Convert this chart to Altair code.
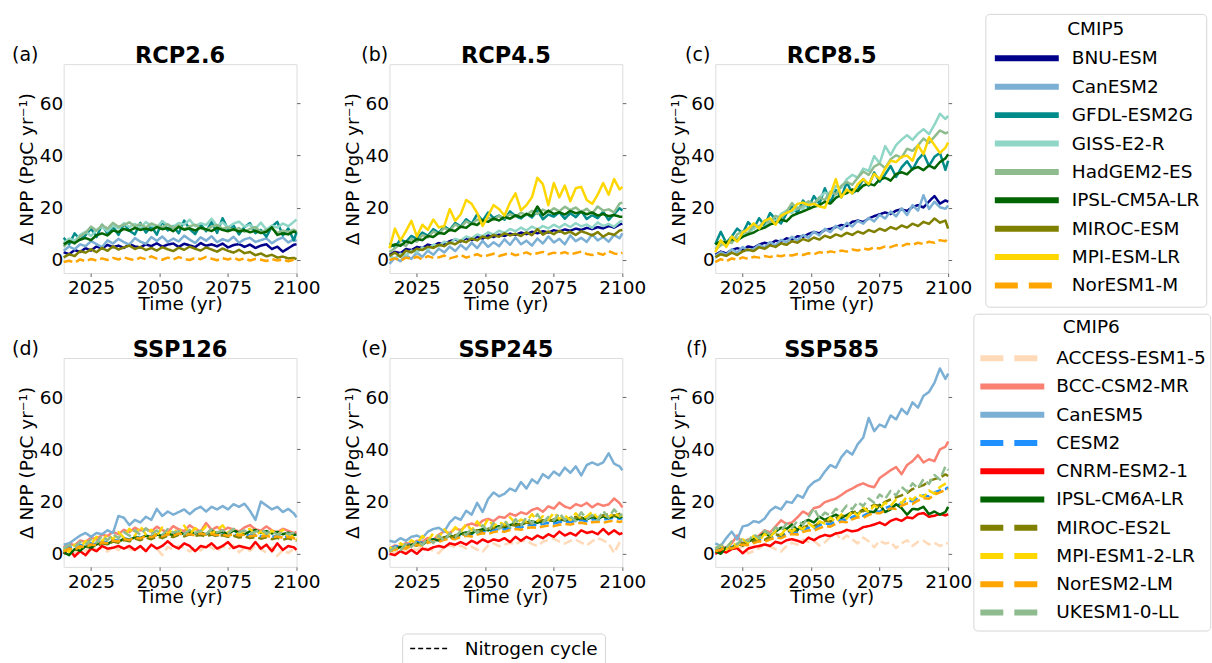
import altair as alt
import pandas as pd

# Sample years of the annual NPP anomaly series
years = list(range(2015, 2100, 2)) + [2100]

cmip5_models = ["BNU-ESM", "CanESM2", "GFDL-ESM2G", "GISS-E2-R", "HadGEM2-ES",
                "IPSL-CM5A-LR", "MIROC-ESM", "MPI-ESM-LR", "NorESM1-M"]
cmip5_colors = ["#00008b", "#7bafd4", "#008b8b", "#8fd6c6", "#8fbc8f",
                "#006400", "#808000", "#ffd700", "#ffa500"]
cmip5_nitrogen = ["NorESM1-M"]

cmip6_models = ["ACCESS-ESM1-5", "BCC-CSM2-MR", "CanESM5", "CESM2", "CNRM-ESM2-1",
                "IPSL-CM6A-LR", "MIROC-ES2L", "MPI-ESM1-2-LR", "NorESM2-LM", "UKESM1-0-LL"]
cmip6_colors = ["#ffdab9", "#fa8072", "#7bafd4", "#1e90ff", "#ff0000",
                "#006400", "#808000", "#ffd700", "#ffa500", "#8fbc8f"]
cmip6_nitrogen = ["ACCESS-ESM1-5", "CESM2", "MIROC-ES2L", "MPI-ESM1-2-LR",
                  "NorESM2-LM", "UKESM1-0-LL"]

scenario_titles = ["RCP2.6", "RCP4.5", "RCP8.5", "SSP126", "SSP245", "SSP585"]
panel_tags = ["(a)", "(b)", "(c)", "(d)", "(e)", "(f)"]
x_ticks = [2025, 2050, 2075, 2100]
y_ticks = [0, 20, 40, 60]

# ---------------- RCP2.6 (CMIP5) ----------------
rcp26_bnu = [3.0, 2.2, 3.8, 3.1, 4.5, 3.6, 5.2, 4.4, 5.8, 4.9, 5.5,
             4.6, 6.1, 5.2, 4.8, 6.0, 5.3, 6.4, 5.1, 5.9, 6.3, 5.0,
             6.2, 5.6, 4.9, 6.5, 5.4, 6.0, 5.2, 6.3, 4.8, 5.7, 6.1,
             5.0, 5.9, 4.6, 5.5, 6.0, 4.2, 5.1, 3.2, 4.5, 5.8, 6.0]
rcp26_can = [3.5, 5.2, 4.1, 6.0, 5.3, 7.2, 6.1, 4.9, 7.5, 6.3, 8.1,
             6.8, 5.9, 8.4, 7.0, 6.2, 8.8, 7.3, 9.0, 6.9, 8.2, 7.1,
             9.3, 7.8, 6.5, 8.7, 7.4, 9.1, 6.8, 8.0, 7.2, 8.9, 6.6,
             7.9, 8.5, 6.9, 7.6, 8.3, 6.4, 7.8, 8.6, 6.7, 7.9, 7.2]
rcp26_gfdl = [8.5, 6.0, 10.2, 7.8, 9.5, 12.0, 8.8, 13.5, 10.1, 12.8, 9.6,
              13.9, 11.2, 9.8, 14.2, 10.5, 12.9, 9.7, 14.8, 11.3, 13.0, 10.2,
              15.1, 11.8, 9.9, 13.6, 11.0, 14.5, 10.4, 16.0, 11.7, 13.2, 9.8,
              12.6, 14.1, 10.3, 11.5, 8.9, 12.8, 14.6, 9.4, 12.1, 7.5, 10.6]
rcp26_giss = [6.5, 8.2, 7.4, 9.6, 10.8, 9.2, 11.5, 12.8, 11.0, 13.2, 12.1,
              14.0, 12.6, 13.8, 12.2, 14.5, 13.1, 12.4, 14.9, 13.3, 12.7, 14.2,
              13.6, 15.4, 12.9, 14.1, 13.4, 15.8, 13.0, 14.4, 12.5, 13.9, 14.7,
              12.8, 13.5, 12.0, 14.3, 11.6, 13.2, 12.4, 14.0, 12.9, 14.6, 15.5]
rcp26_had = [5.0, 7.5, 6.2, 9.0, 10.4, 12.8, 11.2, 13.4, 12.0, 14.2, 12.7,
             13.5, 14.4, 12.9, 13.8, 12.4, 14.0, 13.1, 12.6, 13.7, 12.2, 13.3,
             11.8, 12.9, 13.5, 12.1, 11.6, 12.8, 13.4, 11.9, 12.5, 11.4, 12.2,
             10.8, 11.9, 12.6, 10.7, 11.5, 12.0, 10.4, 11.2, 10.8, 11.6, 11.0]
rcp26_ipsl = [6.0, 7.2, 6.5, 7.8, 8.4, 7.6, 9.5, 10.2, 9.4, 11.3, 10.7,
              11.9, 11.2, 12.3, 11.5, 12.0, 11.4, 12.6, 11.8, 12.2, 11.0, 12.7,
              11.6, 12.1, 11.3, 12.4, 11.7, 11.1, 12.3, 11.5, 11.0, 11.8, 10.9,
              11.4, 10.6, 11.2, 10.3, 10.8, 12.5, 9.6, 10.2, 9.8, 10.9, 10.5]
rcp26_miroc = [1.0, 2.2, 1.5, 3.4, 2.8, 4.1, 3.0, 4.6, 3.5, 5.2, 4.0,
               4.8, 5.5, 4.2, 5.0, 3.8, 4.6, 3.6, 4.9, 4.1, 3.4, 4.7,
               3.9, 5.1, 4.3, 3.6, 4.8, 4.0, 3.2, 4.4, 3.5, 2.8, 3.9,
               2.6, 3.1, 1.8, 2.5, 1.4, 2.0, 0.9, 1.3, 0.6, 0.8, 0.3]
rcp26_nor = [-0.8, -0.3, -1.0, 0.2, -0.5, 0.4, -0.2, 0.6, 0.0, 0.8, 0.2,
             1.0, 0.4, -0.1, 0.9, 0.3, 1.4, 0.5, 0.1, 0.9, 0.2, 1.1,
             0.4, 0.0, 0.8, 0.3, 1.2, 0.5, -0.1, 0.7, 0.2, 0.9, 0.0,
             0.6, -0.2, 0.4, 0.1, -0.4, 0.3, -0.2, 0.2, -0.5, 0.1, -0.1]

# ---------------- RCP4.5 (CMIP5) ----------------
rcp45_bnu = [2.0, 3.1, 2.6, 4.2, 3.8, 5.0, 4.6, 5.9, 5.4, 6.5, 6.0,
             7.2, 7.8, 7.1, 8.3, 7.6, 8.9, 8.2, 9.4, 8.8, 9.7, 9.2,
             10.1, 9.6, 10.5, 9.9, 10.8, 10.2, 11.0, 10.5, 11.4, 10.9, 11.7,
             11.2, 12.0, 11.5, 12.3, 11.8, 12.6, 12.1, 13.0, 12.4, 13.6, 13.9]
rcp45_can = [-1.5, 0.8, -0.5, 1.9, 0.4, 2.8, 1.2, 3.6, 2.0, 4.3, 2.9,
             5.1, 3.4, 5.8, 4.0, 6.6, 4.5, 7.3, 5.0, 6.8, 5.3, 7.9,
             5.8, 8.6, 6.0, 7.4, 5.5, 8.2, 6.3, 9.0, 6.7, 8.1, 6.0,
             9.4, 7.2, 8.5, 6.9, 9.8, 7.5, 8.8, 7.0, 9.6, 8.3, 10.2]
rcp45_gfdl = [6.5, 5.0, 7.8, 6.9, 9.2, 8.1, 10.5, 9.3, 11.8, 10.4, 12.9,
              11.5, 14.2, 12.8, 15.6, 13.9, 17.5, 15.0, 18.2, 16.1, 17.0, 15.4,
              18.6, 16.8, 15.9, 17.7, 16.3, 18.9, 15.6, 17.4, 16.6, 18.3, 15.8,
              17.9, 16.4, 18.7, 15.7, 17.2, 16.0, 18.5, 15.3, 17.6, 19.8, 18.9]
rcp45_giss = [1.5, 0.5, 2.4, 1.8, 3.6, 2.9, 4.8, 4.0, 5.9, 5.2, 7.0,
              6.3, 8.1, 7.4, 9.0, 8.3, 9.8, 9.1, 10.6, 9.7, 11.2, 10.4,
              11.9, 11.0, 12.4, 11.3, 12.8, 11.7, 13.0, 12.1, 13.5, 12.4, 13.8,
              12.6, 14.1, 12.9, 13.6, 12.3, 14.4, 13.0, 13.8, 12.7, 14.6, 15.0]
rcp45_had = [3.0, 4.5, 6.2, 5.4, 8.1, 7.0, 9.6, 8.7, 10.9, 10.0, 12.3,
             11.2, 13.6, 12.5, 14.8, 13.7, 15.5, 14.6, 16.2, 15.3, 16.9, 16.0,
             17.5, 16.6, 18.1, 17.2, 18.8, 17.6, 19.3, 18.2, 19.8, 18.6, 20.4,
             19.1, 20.1, 18.4, 19.6, 17.8, 20.5, 18.9, 19.4, 18.2, 21.6, 22.0]
rcp45_ipsl = [5.0, 6.0, 5.4, 7.1, 6.5, 8.0, 7.6, 9.2, 8.8, 10.4, 10.0,
              11.6, 11.1, 12.8, 12.3, 14.0, 13.4, 15.2, 14.6, 15.9, 15.1, 16.5,
              15.8, 17.1, 16.4, 17.6, 16.9, 20.5, 17.2, 18.9, 17.6, 18.3, 17.4,
              18.8, 17.9, 18.4, 17.5, 18.2, 17.0, 17.6, 16.8, 17.2, 16.6, 16.5]
rcp45_miroc = [1.5, 2.8, 1.2, 3.6, 2.9, 4.3, 3.8, 5.1, 4.6, 5.8, 5.3,
               6.7, 6.0, 7.4, 6.8, 8.2, 7.5, 9.0, 8.3, 9.6, 8.9, 10.2,
               9.4, 10.0, 9.2, 10.6, 9.5, 11.8, 9.7, 10.9, 9.9, 11.2, 10.1,
               10.8, 9.6, 11.0, 10.3, 9.4, 10.7, 8.9, 10.2, 9.6, 11.3, 11.5]
rcp45_mpi = [4.5, 12.0, 7.5, 11.0, 15.0, 9.0, 13.5, 11.5, 15.5, 12.5, 13.0,
             19.5, 15.0, 17.5, 23.0, 21.5, 18.0, 13.0, 17.0, 21.0, 19.5, 17.0,
             22.0, 25.5, 19.0, 21.0, 24.0, 31.5, 29.0, 21.0, 29.5, 24.0, 28.5,
             22.5, 27.5, 28.0, 23.0, 21.5, 25.0, 29.5, 25.0, 31.0, 27.0, 28.0]
rcp45_nor = [0.0, 0.6, -0.3, 0.9, 0.4, 1.3, 0.2, 1.5, 0.8, 1.0, 1.7,
             0.6, 1.2, 1.9, 0.9, 1.6, 2.2, 1.3, 1.8, 2.4, 1.5, 2.1,
             2.7, 1.8, 2.3, 2.9, 2.0, 2.6, 3.1, 2.2, 2.8, 2.4, 3.0,
             2.1, 2.7, 3.2, 2.3, 1.9, 2.6, 2.0, 3.4, 2.5, 2.2, 2.8]

# ---------------- RCP8.5 (CMIP5) ----------------
rcp85_bnu = [2.0, 3.2, 2.5, 3.8, 4.5, 3.9, 5.2, 4.7, 5.9, 6.6, 6.1,
             7.4, 7.0, 8.3, 7.8, 9.1, 8.8, 10.0, 10.7, 10.2, 11.5, 11.9,
             12.6, 13.4, 13.0, 14.6, 15.1, 14.5, 15.9, 16.8, 17.5, 18.2, 17.6,
             18.9, 19.4, 18.8, 20.3, 21.0, 20.1, 22.4, 24.5, 21.6, 22.8, 22.3]
rcp85_can = [1.5, 3.0, 2.0, 4.1, 2.9, 5.0, 3.6, 4.2, 5.8, 4.8, 6.9,
             5.6, 7.7, 6.8, 8.9, 7.4, 9.6, 8.5, 10.8, 9.4, 11.9, 10.6,
             13.1, 11.7, 14.2, 12.8, 15.0, 13.9, 16.1, 14.8, 17.3, 15.9, 18.6,
             16.7, 19.8, 17.2, 21.0, 18.9, 24.8, 19.5, 22.3, 20.2, 19.6, 20.8]
rcp85_gfdl = [6.0, 10.8, 6.5, 9.0, 12.0, 10.2, 14.5, 12.0, 16.0, 13.2, 18.0,
              15.5, 14.0, 17.8, 20.5, 18.0, 22.8, 20.0, 24.5, 21.5, 27.5, 22.0,
              26.8, 24.0, 29.8, 25.5, 27.0, 31.0, 28.5, 33.5, 30.0, 32.8, 36.0,
              31.8, 35.5, 37.8, 34.6, 38.5, 40.8, 36.0, 39.5, 41.0, 34.5, 38.0]
rcp85_giss = [4.5, 6.2, 5.5, 7.6, 8.4, 9.2, 10.5, 12.0, 13.1, 12.4, 15.8,
              14.9, 17.6, 18.9, 18.0, 20.2, 19.6, 22.1, 21.4, 24.0, 25.8, 24.9,
              28.3, 27.6, 30.9, 32.6, 31.5, 35.0, 34.1, 39.8, 37.0, 43.6, 40.2,
              44.0, 46.1, 47.8, 46.0, 48.4, 50.1, 48.2, 51.8, 56.0, 54.0, 55.2]
rcp85_had = [4.0, 5.6, 7.2, 6.5, 9.8, 11.0, 10.1, 13.5, 12.6, 15.1, 14.2,
             16.9, 16.0, 18.5, 21.8, 19.5, 20.8, 22.5, 21.4, 23.9, 23.0, 26.2,
             25.1, 28.4, 29.9, 28.8, 31.5, 33.9, 32.6, 35.8, 36.9, 35.2, 38.6,
             40.1, 39.2, 42.6, 41.8, 43.9, 46.5, 44.8, 47.2, 49.6, 48.5, 49.0]
rcp85_ipsl = [6.0, 7.1, 6.6, 8.0, 7.5, 8.9, 9.8, 10.5, 11.7, 12.4, 13.6,
              14.2, 15.5, 14.8, 16.9, 17.8, 18.6, 19.5, 20.4, 21.0, 22.3, 21.6,
              23.8, 24.9, 25.6, 27.0, 26.4, 28.5, 29.2, 28.6, 30.8, 31.5, 30.4,
              32.9, 33.6, 32.8, 34.9, 35.6, 34.4, 36.2, 35.1, 37.5, 38.9, 40.5]
rcp85_miroc = [1.0, 2.2, 1.6, 2.8, 1.9, 3.3, 4.0, 3.4, 4.9, 4.3, 5.6,
               5.0, 6.4, 5.8, 7.2, 6.6, 8.0, 7.3, 8.6, 7.8, 9.3, 8.5,
               9.8, 9.1, 10.4, 9.6, 10.9, 10.1, 11.5, 10.7, 12.0, 11.2, 12.6,
               11.8, 13.2, 12.4, 13.9, 13.0, 14.6, 13.8, 15.9, 14.3, 15.1, 12.0]
rcp85_mpi = [3.0, 7.5, 5.0, 9.0, 7.0, 10.5, 12.0, 14.0, 12.0, 15.0, 16.0,
             13.5, 17.0, 18.0, 19.0, 21.5, 22.0, 21.0, 21.5, 20.5, 20.0, 25.0,
             31.0, 24.0, 27.0, 25.5, 29.0, 31.0, 29.0, 33.0, 31.0, 35.0, 38.0,
             37.5, 39.5, 40.0, 38.0, 44.0, 40.5, 47.0, 44.0, 41.0, 43.0, 45.0]
rcp85_nor = [-0.8, 0.3, -0.5, 0.6, 0.1, 1.0, 0.4, 1.2, 0.9, 1.5, 1.1,
             1.8, 1.4, 2.0, 1.7, 2.3, 1.9, 2.6, 2.2, 3.0, 2.6, 3.3,
             2.9, 3.6, 3.2, 4.0, 3.6, 4.4, 4.0, 4.8, 4.4, 5.2, 4.9,
             5.7, 5.3, 6.2, 5.8, 6.6, 6.1, 7.0, 6.6, 7.6, 7.2, 8.4]

# ---------------- SSP126 (CMIP6) ----------------
ssp126_access = [0.5, 1.8, 0.2, 2.4, 1.1, 3.0, 1.6, 2.2, 0.8, 2.9, 1.4,
                 3.3, 2.0, 1.1, 2.8, 1.5, 3.4, 2.1, -0.5, 2.6, 1.7, 3.1,
                 2.2, 0.9, 2.7, 1.3, 3.5, 2.4, 1.0, 2.9, 1.6, 3.2, 0.6,
                 2.3, 1.2, 3.0, 1.8, 0.4, 2.5, -0.8, 1.5, 0.3, 1.9, 1.0]
ssp126_bcc = [2.5, 4.0, 3.2, 5.1, 4.6, 6.2, 5.5, 7.3, 6.8, 8.4, 7.5,
              9.2, 8.3, 10.0, 8.9, 9.6, 8.5, 10.4, 9.1, 8.3, 10.6, 9.4,
              8.7, 10.9, 9.5, 8.6, 11.8, 9.2, 10.3, 8.8, 10.0, 9.3, 8.5,
              10.1, 11.0, 9.4, 8.9, 10.5, 9.0, 8.2, 9.6, 8.8, 7.9, 8.4]
ssp126_can = [3.5, 4.0, 5.5, 7.0, 8.0, 6.5, 8.0, 7.5, 9.0, 8.0, 14.5,
              13.8, 11.0, 13.0, 12.0, 14.2, 13.0, 17.2, 14.5, 16.2, 15.0, 16.0,
              17.0, 15.2, 17.0, 18.0, 16.2, 18.0, 17.0, 18.3, 17.0, 19.0, 18.0,
              19.2, 16.5, 13.0, 20.0, 18.5, 17.0, 18.0, 16.0, 17.2, 15.5, 14.0]
ssp126_cesm = [1.5, 2.6, 2.0, 3.4, 3.0, 4.1, 3.6, 4.8, 4.3, 5.4, 5.0,
               6.0, 5.5, 6.6, 6.1, 7.0, 6.5, 7.4, 6.8, 7.7, 7.1, 7.9,
               7.3, 7.6, 7.0, 7.8, 7.2, 7.5, 6.9, 7.7, 7.1, 7.4, 6.8,
               7.6, 7.0, 7.3, 6.7, 7.1, 6.5, 6.9, 6.3, 6.7, 6.1, 6.2]
ssp126_cnrm = [0.0, 2.0, -1.0, 1.0, -0.5, 2.0, 1.0, 3.0, 2.0, 2.3, 3.0,
               2.0, 3.0, 1.5, 3.0, 1.0, 3.5, 2.0, 3.0, 4.8, 3.0, 2.0,
               4.0, 3.0, 1.0, 3.0, 2.5, 4.0, 2.0, 3.0, 4.5, 2.2, 3.0,
               2.5, 2.0, 4.5, 2.0, 3.5, 1.0, 4.0, 1.5, 3.0, 2.5, 1.5]
ssp126_ipsl = [0.5, -0.5, 1.8, 1.2, 2.9, 2.3, 3.6, 4.2, 3.7, 5.0, 4.6,
               5.8, 5.2, 6.4, 5.9, 7.0, 6.3, 7.4, 6.8, 7.8, 7.1, 8.3,
               7.5, 8.6, 7.8, 8.2, 7.4, 8.8, 7.9, 8.4, 7.6, 8.9, 8.1,
               7.5, 8.6, 9.1, 8.0, 8.7, 7.8, 8.4, 7.5, 8.1, 7.2, 7.4]
ssp126_miroc = [0.8, 1.9, 1.2, 2.8, 2.2, 3.5, 2.9, 4.1, 3.6, 4.7, 4.2,
                5.3, 4.8, 5.8, 5.2, 6.2, 5.6, 6.6, 6.0, 7.0, 6.4, 7.3,
                6.7, 7.5, 6.9, 7.2, 6.6, 7.4, 6.8, 7.1, 6.5, 6.9, 6.2,
                6.7, 6.0, 6.4, 5.8, 6.3, 5.6, 6.1, 5.4, 5.9, 5.2, 5.0]
ssp126_mpi = [2.0, 0.8, 3.5, 2.2, 4.9, 3.6, 6.5, 4.8, 7.4, 5.6, 8.3,
              6.2, 9.6, 7.0, 10.5, 7.4, 9.2, 6.8, 10.1, 7.6, 9.4, 8.0,
              10.8, 7.5, 9.9, 8.3, 10.6, 7.8, 9.1, 10.9, 8.2, 9.5, 7.4,
              8.8, 9.6, 7.2, 8.5, 6.8, 8.9, 7.1, 9.2, 6.4, 6.9, 5.5]
ssp126_nor = [1.0, 2.0, 1.6, 2.9, 2.5, 3.6, 3.3, 4.4, 4.0, 5.1, 4.7,
              5.7, 5.3, 6.2, 5.9, 6.8, 6.4, 7.2, 6.7, 7.5, 6.9, 7.8,
              7.2, 7.6, 7.0, 7.9, 7.3, 7.7, 7.1, 7.4, 6.9, 7.6, 7.0,
              7.3, 6.7, 7.0, 6.5, 6.9, 6.3, 6.7, 6.1, 6.5, 5.9, 6.0]
ssp126_uk = [2.0, 3.4, 2.5, 4.6, 3.5, 5.5, 4.3, 6.8, 5.2, 7.5, 6.0,
             8.3, 6.9, 9.0, 7.2, 9.8, 7.6, 8.9, 7.3, 9.5, 8.1, 8.7,
             7.5, 9.2, 8.0, 8.8, 7.6, 9.4, 8.2, 9.0, 7.8, 9.6, 8.3,
             8.9, 7.7, 8.5, 9.2, 7.9, 8.6, 7.4, 8.3, 7.6, 8.0, 7.2]

# ---------------- SSP245 (CMIP6) ----------------
ssp245_access = [1.0, 0.5, 1.6, 0.9, 2.2, 1.5, 2.8, 1.8, 1.2, 0.2, 2.6,
                 3.3, 2.4, 3.1, 2.0, 2.7, 1.6, 0.8, 3.2, 4.0, 2.9, 3.5,
                 4.2, 3.6, 4.8, 5.1, 3.8, 3.0, 4.6, 5.3, 5.8, 4.7, 3.9,
                 5.0, 5.4, 4.3, 3.2, 4.8, 6.0, 5.2, 4.0, 0.3, 4.4, 5.2]
ssp245_bcc = [2.0, 3.2, 2.6, 4.1, 3.7, 5.0, 4.6, 6.1, 5.4, 7.3, 8.6,
              7.9, 9.8, 9.0, 10.9, 11.6, 10.8, 12.7, 13.4, 12.5, 14.2, 13.8,
              15.4, 14.6, 15.9, 15.2, 16.8, 17.5, 16.1, 18.2, 17.3, 19.6, 18.1,
              17.4, 19.0, 18.3, 19.5, 17.8, 19.2, 18.4, 18.9, 21.2, 19.4, 17.8]
ssp245_can = [5.0, 4.5, 6.0, 5.0, 6.5, 7.0, 6.0, 8.5, 9.5, 10.0, 8.5,
              12.0, 14.0, 13.0, 16.5, 15.0, 19.5, 16.0, 21.0, 23.5, 22.0, 23.0,
              25.0, 24.0, 27.5, 25.0, 28.5, 27.0, 30.5, 29.0, 31.5, 30.0, 33.0,
              31.0, 33.5, 30.0, 34.0, 35.0, 34.0, 35.0, 38.5, 34.5, 33.5, 32.0]
ssp245_cesm = [2.0, 2.7, 3.3, 3.0, 3.9, 4.5, 4.2, 5.0, 5.6, 5.3, 6.1,
               6.7, 6.4, 7.2, 7.7, 7.5, 8.2, 8.7, 8.4, 9.1, 9.5, 9.3,
               9.9, 10.4, 10.1, 10.7, 11.2, 10.9, 11.5, 11.8, 11.6, 12.1, 12.4,
               12.2, 12.6, 12.9, 12.5, 13.1, 13.3, 13.0, 13.5, 13.8, 13.4, 13.6]
ssp245_cnrm = [0.0, -0.5, 1.0, 0.0, 1.5, 0.0, 2.0, 1.5, 2.5, 3.0, 2.5,
               4.0, 3.5, 4.5, 3.5, 5.0, 4.0, 5.5, 4.5, 5.5, 5.0, 6.0,
               4.5, 6.5, 5.0, 6.5, 5.5, 7.0, 6.0, 7.5, 6.5, 8.5, 7.0,
               8.0, 7.0, 9.0, 8.0, 8.5, 7.5, 9.5, 7.5, 9.0, 7.5, 8.0]
ssp245_ipsl = [1.0, 1.8, 2.6, 2.2, 3.4, 4.0, 3.6, 4.9, 5.5, 5.1, 6.3,
               6.9, 6.4, 7.6, 8.2, 7.8, 8.9, 9.4, 9.0, 10.1, 10.6, 10.2,
               11.0, 11.5, 11.1, 12.0, 12.4, 11.9, 12.6, 13.1, 12.5, 13.3, 12.8,
               13.6, 13.0, 13.8, 13.2, 14.1, 13.5, 14.3, 13.7, 14.6, 13.9, 14.2]
ssp245_miroc = [1.2, 2.0, 1.6, 2.9, 3.5, 3.1, 4.3, 4.9, 4.5, 5.7, 6.3,
                5.9, 7.1, 7.6, 7.2, 8.4, 8.9, 8.5, 9.6, 10.0, 9.7, 10.7,
                11.1, 10.8, 11.7, 12.0, 11.6, 12.5, 12.9, 12.4, 13.2, 13.5, 13.0,
                13.8, 14.1, 13.6, 14.3, 14.6, 14.0, 14.8, 15.1, 14.5, 15.3, 15.0]
ssp245_mpi = [2.5, 1.5, 4.0, 2.8, 5.2, 3.9, 6.8, 5.0, 7.9, 6.2, 9.4,
              7.1, 10.2, 8.3, 11.5, 9.0, 12.4, 9.8, 13.3, 10.6, 12.1, 11.2,
              14.0, 11.7, 13.1, 12.3, 15.2, 12.6, 14.4, 13.0, 15.8, 13.4, 14.7,
              12.9, 15.5, 13.6, 14.2, 16.1, 13.8, 15.0, 14.1, 15.6, 14.3, 14.8]
ssp245_nor = [1.0, 1.7, 2.3, 2.0, 3.0, 3.5, 3.2, 4.2, 4.8, 4.5, 5.4,
              5.9, 5.6, 6.5, 6.9, 6.6, 7.4, 7.9, 7.6, 8.3, 8.7, 8.4,
              9.1, 9.5, 9.2, 9.8, 10.2, 9.9, 10.5, 10.8, 10.6, 11.1, 11.4,
              11.2, 11.6, 11.9, 11.5, 12.1, 12.3, 11.9, 12.4, 12.7, 12.2, 12.5]
ssp245_uk = [1.0, 2.6, 1.5, 3.8, 2.6, 4.9, 3.4, 5.9, 4.1, 7.0, 5.0,
             7.9, 6.3, 8.8, 7.2, 9.9, 8.0, 10.9, 8.6, 11.8, 9.5, 12.6,
             10.1, 13.3, 10.9, 14.0, 11.6, 15.2, 12.0, 14.1, 12.8, 15.6, 13.0,
             14.4, 12.5, 15.9, 13.3, 14.8, 12.9, 16.4, 13.8, 17.0, 14.6, 15.2]

# ---------------- SSP585 (CMIP6) ----------------
ssp585_access = [1.0, 2.2, 0.8, 2.6, 1.5, 3.0, 0.2, 1.0, 2.2, 3.5, 2.8,
                 1.8, 0.8, 2.9, 4.2, 3.5, 5.4, 4.6, 5.0, 3.2, 4.4, 6.5,
                 8.0, 5.2, 7.0, 5.5, 4.0, 6.2, 4.8, 2.5, 5.0, 3.9, 4.5,
                 2.2, 4.0, 5.2, 3.0, 4.6, 5.0, 3.6, 4.2, 3.0, 3.8, 4.1]
ssp585_bcc = [1.5, 3.0, 2.2, 4.0, 7.0, 3.5, 5.5, 6.0, 7.0, 9.0, 8.2,
              10.5, 12.8, 11.5, 12.0, 14.0, 16.2, 15.0, 17.5, 18.0, 19.8, 20.5,
              21.2, 22.5, 24.0, 25.0, 26.2, 27.0, 26.0, 25.5, 29.0, 30.5, 32.0,
              33.2, 30.5, 34.0, 35.5, 37.8, 35.0, 36.2, 35.5, 40.0, 41.0, 43.0]
ssp585_can = [4.0, 3.0, 6.0, 8.5, 5.5, 10.5, 11.0, 12.5, 12.0, 13.5, 16.5,
              18.0, 17.0, 20.0, 19.5, 22.5, 21.5, 25.5, 27.5, 28.5, 31.5, 34.0,
              33.0, 37.0, 39.5, 38.0, 42.0, 44.5, 52.0, 47.0, 49.5, 48.5, 53.0,
              51.5, 55.5, 53.5, 58.0, 56.0, 60.5, 62.0, 65.5, 71.0, 67.0, 69.0]
ssp585_cesm = [1.5, 2.2, 2.9, 2.6, 3.6, 4.2, 4.0, 4.9, 5.5, 5.2, 6.3,
               7.0, 6.7, 7.8, 8.5, 8.2, 9.3, 10.0, 9.7, 10.9, 11.6, 11.3,
               12.5, 13.2, 12.9, 14.1, 14.8, 14.5, 15.7, 16.4, 16.1, 17.5, 18.3,
               18.0, 19.6, 20.5, 20.1, 21.6, 22.4, 22.0, 23.5, 24.3, 24.8, 25.5]
ssp585_cnrm = [0.0, 1.2, 0.5, 1.8, 2.2, 0.2, 2.0, 2.6, 3.0, 3.6, 3.0,
               4.6, 4.0, 5.2, 5.6, 5.0, 4.2, 6.2, 5.2, 6.5, 7.2, 6.8,
               7.8, 8.2, 9.2, 8.6, 9.0, 10.2, 10.6, 11.2, 12.0, 11.0, 12.6,
               13.4, 12.6, 14.0, 13.6, 15.2, 15.6, 14.2, 14.6, 15.2, 14.7, 15.2]
ssp585_ipsl = [1.0, 0.0, 2.5, 2.0, 3.8, 3.2, 4.6, 5.8, 6.5, 8.0, 6.8,
               8.5, 10.0, 9.5, 11.2, 9.0, 12.0, 13.0, 12.0, 14.2, 13.0, 14.0,
               15.0, 13.8, 14.8, 16.0, 15.2, 17.0, 16.2, 16.0, 18.8, 16.0, 17.0,
               19.0, 17.5, 15.0, 17.2, 17.0, 18.0, 15.2, 16.2, 15.0, 16.0, 18.0]
ssp585_miroc = [1.0, 1.8, 2.6, 2.2, 3.4, 4.1, 3.8, 5.0, 5.7, 5.4, 6.6,
                7.4, 7.1, 8.3, 9.1, 8.8, 10.0, 10.9, 10.6, 11.8, 12.7, 12.4,
                13.7, 14.6, 14.3, 15.7, 16.6, 16.3, 17.8, 18.7, 18.4, 19.9, 20.8,
                21.6, 22.4, 23.3, 24.8, 25.6, 26.3, 27.9, 28.6, 29.2, 30.4, 29.8]
ssp585_mpi = [2.0, 3.2, 1.5, 4.6, 2.8, 5.6, 4.2, 6.9, 5.0, 7.6, 6.4,
              8.8, 7.3, 9.9, 8.4, 10.6, 9.3, 11.8, 10.1, 12.4, 11.6, 13.9,
              12.2, 15.1, 13.5, 16.3, 14.6, 17.8, 15.9, 18.5, 17.2, 19.6, 18.3,
              20.8, 19.4, 21.9, 20.6, 22.7, 21.8, 24.2, 23.0, 25.6, 26.9, 27.5]
ssp585_nor = [1.0, 1.6, 2.2, 2.0, 2.9, 3.5, 3.3, 4.1, 4.8, 4.6, 5.5,
              6.2, 6.0, 6.9, 7.6, 7.4, 8.3, 9.0, 8.8, 9.8, 10.6, 10.4,
              11.5, 12.3, 12.1, 13.2, 14.0, 13.8, 14.9, 15.7, 15.5, 16.6, 17.4,
              17.2, 18.4, 19.3, 19.1, 20.4, 21.3, 21.1, 22.6, 23.5, 24.4, 24.8]
ssp585_uk = [2.0, 3.5, 2.4, 4.8, 3.6, 6.0, 4.8, 7.5, 6.0, 8.9, 7.4,
             10.2, 8.8, 11.5, 10.0, 12.6, 11.2, 14.0, 17.5, 13.5, 15.8, 14.6,
             17.2, 15.9, 18.5, 17.1, 19.8, 18.3, 21.2, 19.6, 22.7, 21.0, 24.1,
             22.4, 25.6, 23.8, 27.0, 25.1, 28.6, 26.8, 30.2, 28.4, 33.5, 32.0]

nitrogen_label = ["Nitrogen cycle"]

# Series belonging to each scenario (MPI-ESM-LR has no RCP2.6 run here)
scenario_series = [
    {"BNU-ESM": rcp26_bnu, "CanESM2": rcp26_can, "GFDL-ESM2G": rcp26_gfdl,
     "GISS-E2-R": rcp26_giss, "HadGEM2-ES": rcp26_had, "IPSL-CM5A-LR": rcp26_ipsl,
     "MIROC-ESM": rcp26_miroc, "NorESM1-M": rcp26_nor},
    {"BNU-ESM": rcp45_bnu, "CanESM2": rcp45_can, "GFDL-ESM2G": rcp45_gfdl,
     "GISS-E2-R": rcp45_giss, "HadGEM2-ES": rcp45_had, "IPSL-CM5A-LR": rcp45_ipsl,
     "MIROC-ESM": rcp45_miroc, "MPI-ESM-LR": rcp45_mpi, "NorESM1-M": rcp45_nor},
    {"BNU-ESM": rcp85_bnu, "CanESM2": rcp85_can, "GFDL-ESM2G": rcp85_gfdl,
     "GISS-E2-R": rcp85_giss, "HadGEM2-ES": rcp85_had, "IPSL-CM5A-LR": rcp85_ipsl,
     "MIROC-ESM": rcp85_miroc, "MPI-ESM-LR": rcp85_mpi, "NorESM1-M": rcp85_nor},
    {"ACCESS-ESM1-5": ssp126_access, "BCC-CSM2-MR": ssp126_bcc, "CanESM5": ssp126_can,
     "CESM2": ssp126_cesm, "CNRM-ESM2-1": ssp126_cnrm, "IPSL-CM6A-LR": ssp126_ipsl,
     "MIROC-ES2L": ssp126_miroc, "MPI-ESM1-2-LR": ssp126_mpi, "NorESM2-LM": ssp126_nor,
     "UKESM1-0-LL": ssp126_uk},
    {"ACCESS-ESM1-5": ssp245_access, "BCC-CSM2-MR": ssp245_bcc, "CanESM5": ssp245_can,
     "CESM2": ssp245_cesm, "CNRM-ESM2-1": ssp245_cnrm, "IPSL-CM6A-LR": ssp245_ipsl,
     "MIROC-ES2L": ssp245_miroc, "MPI-ESM1-2-LR": ssp245_mpi, "NorESM2-LM": ssp245_nor,
     "UKESM1-0-LL": ssp245_uk},
    {"ACCESS-ESM1-5": ssp585_access, "BCC-CSM2-MR": ssp585_bcc, "CanESM5": ssp585_can,
     "CESM2": ssp585_cesm, "CNRM-ESM2-1": ssp585_cnrm, "IPSL-CM6A-LR": ssp585_ipsl,
     "MIROC-ES2L": ssp585_miroc, "MPI-ESM1-2-LR": ssp585_mpi, "NorESM2-LM": ssp585_nor,
     "UKESM1-0-LL": ssp585_uk},
]

FONT = "DejaVu Sans"
FS = 18.5
PANEL_W, PANEL_H = 233, 209
COL_GAP, ROW_GAP = 93, 85
TAG_DX = [-51.6, -28.2, -30.2, -51.6, -28.2, -29.2]
LINE_DASH = [9, 4]        # dashed runs in the panels
KEY_DASH = [23, 11]       # longer dashes for the legend keys
SOLID = [1, 0]
TICK_COLOR = "#666666"


def long_table(series, models):
    rows = []
    for m in models:
        if m in series:
            for yr, v in zip(years, series[m]):
                rows.append({"year": yr, "npp": v, "model": m})
    return pd.DataFrame(rows)


x_scale = alt.Scale(domain=[2015, 2100], nice=False, zero=False)
y_scale = alt.Scale(domain=[-5, 75], nice=False, zero=False)

x_axis = alt.Axis(title="Time (yr)", values=x_ticks, format="d", labelFlush=False,
                  labelOverlap=False, grid=False, domain=False, ticks=True, tickSize=3.5,
                  tickColor=TICK_COLOR, tickWidth=1, labelPadding=2, labelFont=FONT,
                  labelFontSize=FS, labelColor="black", titleFont=FONT, titleFontSize=FS,
                  titleFontWeight="normal", titleColor="black", titlePadding=-3)
y_axis = alt.Axis(title="\u0394 NPP (PgC yr\u207b\u00b9)", values=y_ticks, labelFlush=False,
                  labelOverlap=False, grid=False, domain=False, ticks=False, tickSize=0,
                  labelPadding=1, labelFont=FONT, labelFontSize=FS, labelColor="black",
                  titleFont=FONT, titleFontSize=FS, titleFontWeight="normal",
                  titleColor="black", titlePadding=2.5)
# Tick marks only, on the right-hand frame
y_axis_right = alt.Axis(orient="right", title="", values=y_ticks, labels=False, grid=False,
                        domain=False, ticks=True, tickSize=3.5, tickColor=TICK_COLOR,
                        tickWidth=1)

x_enc = alt.X("year:Q", scale=x_scale, axis=x_axis)
y_enc = alt.Y("npp:Q", scale=y_scale, axis=y_axis)
y_enc_plain = alt.Y("npp:Q", scale=y_scale, axis=None)


def model_legend(title, lx, ly, row_pad, pad, label_offset, title_pad):
    return alt.Legend(title=title, orient="none", legendX=lx, legendY=ly, symbolType="stroke",
                      symbolSize=4096, symbolStrokeWidth=6, labelOffset=label_offset,
                      clipHeight=28, rowPadding=row_pad, padding=pad, titlePadding=title_pad,
                      titleAnchor="middle", titleFont=FONT, titleFontSize=FS,
                      titleFontWeight="normal", titleColor="black", labelFont=FONT,
                      labelFontSize=FS, labelColor="black", labelLimit=400,
                      strokeColor="#d6d6d6", fillColor="white", cornerRadius=4)


def key_layer(models, colors, nitro, legend):
    # One-point paths per model: nothing is stroked, but the legend keys are built here
    df = pd.DataFrame({"year": [years[0]] * len(models), "npp": [0.0] * len(models),
                       "model": models})
    dashes = [KEY_DASH if m in nitro else SOLID for m in models]
    return alt.Chart(df).mark_line(strokeWidth=2.5).encode(
        x=x_enc, y=y_enc_plain,
        color=alt.Color("model:N", scale=alt.Scale(domain=models, range=colors), legend=legend),
        strokeDash=alt.StrokeDash("model:N", scale=alt.Scale(domain=models, range=dashes),
                                  legend=legend),
    )


def right_ticks():
    return alt.Chart(pd.DataFrame({"npp": y_ticks})).mark_point(opacity=0).encode(
        y=alt.Y("npp:Q", scale=y_scale, axis=y_axis_right)
    )


def panel(idx, models, colors, nitro, legend=None, extra=()):
    df = long_table(scenario_series[idx], models)
    dashes = [LINE_DASH if m in nitro else SOLID for m in models]
    lines = alt.Chart(df).mark_line(strokeWidth=2.5, strokeJoin="round").encode(
        x=x_enc, y=y_enc,
        color=alt.Color("model:N", scale=alt.Scale(domain=models, range=colors), legend=None),
        strokeDash=alt.StrokeDash("model:N", scale=alt.Scale(domain=models, range=dashes),
                                  legend=None),
    )
    head = pd.DataFrame({"tag": [panel_tags[idx]], "scenario": [scenario_titles[idx]]})
    tag = alt.Chart(head).mark_text(
        align="left", baseline="alphabetic", font=FONT, fontSize=19, color="black"
    ).encode(x=alt.value(TAG_DX[idx]), y=alt.value(-3), text="tag:N")
    heading = alt.Chart(head).mark_text(
        align="center", baseline="alphabetic", font=FONT, fontSize=22.5, fontWeight="bold",
        color="black"
    ).encode(x=alt.value(PANEL_W / 2), y=alt.value(-1), text="scenario:N")
    layers = [lines, tag, heading, right_ticks()] + list(extra)
    if legend is not None:
        layers.append(key_layer(models, colors, nitro, legend))
    return alt.layer(*layers).resolve_scale(
        color="independent", strokeDash="independent"
    ).resolve_axis(y="independent").properties(width=PANEL_W, height=PANEL_H)


# Legend boxes, placed relative to the top-left corner of panels (c) and (f)
leg5 = model_legend("CMIP5", 270.2, -50.3, 0.4, 6.5, 10, 5.5)
leg6 = model_legend("CMIP6", 258.2, -44.3, 0.27, 4, 9, 8)

nitro_legend = alt.Legend(title=None, orient="none", legendX=338.7, legendY=569.7,
                          symbolType="stroke", symbolSize=1600, symbolDash=[5, 3],
                          symbolStrokeColor="black", symbolStrokeWidth=1.5,
                          labelOffset=13.5, padding=7, clipHeight=16, labelFont=FONT,
                          labelFontSize=FS, labelColor="black", strokeColor="#d6d6d6",
                          fillColor="white", cornerRadius=4)
nitro_df = pd.DataFrame({"year": [years[0]], "npp": [0.0], "label": nitrogen_label})
nitro_layer = alt.Chart(nitro_df).mark_line(color="black").encode(
    x=x_enc, y=y_enc_plain,
    strokeWidth=alt.StrokeWidth("label:N", scale=alt.Scale(type="ordinal", domain=nitrogen_label,
                                                            range=[1.5]),
                                legend=nitro_legend),
)

panels = [
    panel(0, cmip5_models, cmip5_colors, cmip5_nitrogen),
    panel(1, cmip5_models, cmip5_colors, cmip5_nitrogen),
    panel(2, cmip5_models, cmip5_colors, cmip5_nitrogen, legend=leg5),
    panel(3, cmip6_models, cmip6_colors, cmip6_nitrogen),
    panel(4, cmip6_models, cmip6_colors, cmip6_nitrogen, extra=(nitro_layer,)),
    panel(5, cmip6_models, cmip6_colors, cmip6_nitrogen, legend=leg6),
]

chart = alt.concat(*panels, columns=3, spacing={"row": ROW_GAP, "column": COL_GAP},
                   bounds="flush").resolve_scale(
    color="independent", strokeDash="independent"
).properties(
    padding={"left": 10.7, "top": 12, "right": 0, "bottom": 0}, background="white"
).configure_view(stroke="#b0b0b0", strokeWidth=1).configure(font=FONT)

chart.save("out.html", embed_options={"renderer": "svg", "actions": False})
